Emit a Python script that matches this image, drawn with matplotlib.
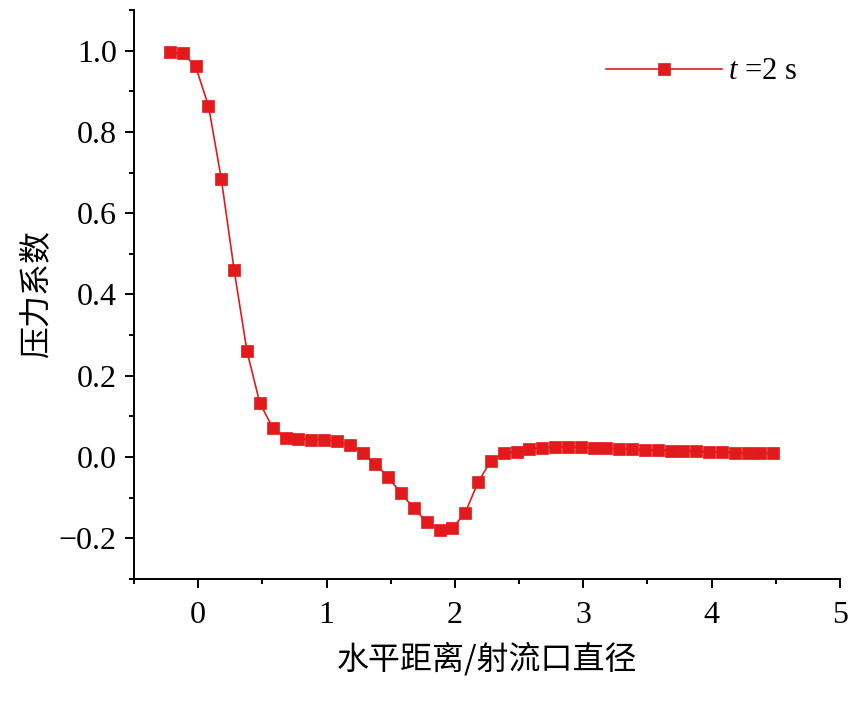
import matplotlib
matplotlib.use("Agg")
import matplotlib.pyplot as plt
from matplotlib.ticker import MultipleLocator

# horizontal distance / jet diameter
distance = [-0.22, -0.12, -0.02, 0.08, 0.18, 0.28, 0.38, 0.48, 0.58, 0.68,
            0.78, 0.88, 0.98, 1.08, 1.18, 1.28, 1.38, 1.48, 1.58, 1.68,
            1.78, 1.88, 1.98, 2.08, 2.18, 2.28, 2.38, 2.48, 2.58, 2.68,
            2.78, 2.88, 2.98, 3.08, 3.18, 3.28, 3.38, 3.48, 3.58, 3.68,
            3.78, 3.88, 3.98, 4.08, 4.18, 4.28, 4.38, 4.48]

# pressure coefficient at t = 2 s
pressure = [0.996, 0.993, 0.961, 0.864, 0.684, 0.460, 0.260, 0.133, 0.072, 0.048,
            0.044, 0.043, 0.043, 0.039, 0.029, 0.011, -0.017, -0.050, -0.089, -0.126,
            -0.160, -0.179, -0.175, -0.137, -0.062, -0.009, 0.009, 0.013, 0.020, 0.023,
            0.025, 0.025, 0.024, 0.023, 0.022, 0.020, 0.019, 0.018, 0.017, 0.016,
            0.015, 0.014, 0.013, 0.012, 0.011, 0.010, 0.009, 0.009]

x_ticks = [0, 1, 2, 3, 4, 5]
y_ticks = [-0.2, 0.0, 0.2, 0.4, 0.6, 0.8, 1.0]
y_labels = ['\u22120.2', '0.0', '0.2', '0.4', '0.6', '0.8', '1.0']

plt.rcParams['font.family'] = ['Liberation Serif', 'DejaVu Serif']
plt.rcParams['mathtext.fontset'] = 'custom'
plt.rcParams['mathtext.it'] = 'Liberation Serif:italic'
plt.rcParams['mathtext.rm'] = 'Liberation Serif'

red = '#E31A1C'

fig = plt.figure(figsize=(8.62, 7.03), dpi=100)
ax = fig.add_axes([0.1555, 0.1764, 0.819, 0.8094])

ax.plot(distance, pressure, color=red, lw=1.2, marker='s', ms=9,
        mfc=red, mec=red, mew=0.5, label=r'$t$ =2 s')

ax.set_xlim(-0.5, 5)
ax.set_ylim(-0.3, 1.1)
ax.set_xticks(x_ticks)
ax.set_yticks(y_ticks)
ax.set_yticklabels(y_labels)
ax.xaxis.set_minor_locator(MultipleLocator(0.5))
ax.yaxis.set_minor_locator(MultipleLocator(0.1))

ax.spines['top'].set_visible(False)
ax.spines['right'].set_visible(False)
for s in ['left', 'bottom']:
    ax.spines[s].set_linewidth(1.4)

ax.tick_params(which='major', direction='out', length=6.5, width=1.4, labelsize=23, pad=6)
ax.tick_params(axis='x', which='major', pad=9)
ax.tick_params(which='minor', direction='out', length=3.5, width=1.4)

ax.set_xlabel('水平距离/射流口直径', family=['Noto Sans CJK SC', 'DejaVu Sans'], fontsize=23, labelpad=9)
ax.set_ylabel('压力系数', family=['Noto Sans CJK SC', 'DejaVu Sans'], fontsize=23, labelpad=4)

ax.legend(loc='upper right', frameon=False, fontsize=22, handlelength=3.8,
          handletextpad=0.2, bbox_to_anchor=(0.978, 0.965))

fig.savefig('out.png', dpi=100)
